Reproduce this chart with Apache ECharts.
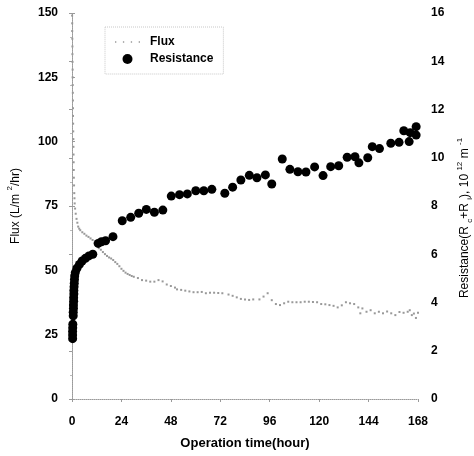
<!DOCTYPE html>
<html>
<head>
<meta charset="utf-8">
<script src="https://cdn.jsdelivr.net/npm/echarts@6/dist/echarts.min.js"></script>
<style>
  html, body { margin: 0; padding: 0; background: #fff; }
  #chart { width: 474px; height: 456px; }
</style>
</head>
<body>
<div id="chart"></div>
<script>
// operation time (h) ticks
var timeTicks = [0, 24, 48, 72, 96, 120, 144, 168];

// flux, L/m2/hr : [time, flux]
var fluxData = [
  [0.05, 149], [0.1, 146], [0.1, 143], [0.15, 140], [0.2, 137], [0.2, 134],
  [0.25, 131], [0.3, 128], [0.3, 125], [0.35, 122], [0.4, 119], [0.45, 116],
  [0.5, 113], [0.5, 110], [0.55, 107], [0.6, 104], [0.65, 101], [0.7, 98],
  [0.75, 95], [0.8, 92], [0.85, 89], [0.9, 86], [1.0, 83], [1.1, 80],
  [1.2, 78], [1.3, 76], [1.5, 74], [1.8, 72], [2.2, 70], [2.6, 68.5],
  [3, 67], [3.5, 66.2], [4, 65.6], [5, 64.8], [6, 64.2], [7, 63.5],
  [8, 63], [9, 62.4], [10, 61.8], [11, 60.8], [12, 59.8], [13, 58.6],
  [14, 58], [15, 57.1], [16, 56.3], [17, 55.6], [18, 55], [19, 54.6],
  [20, 54], [21, 53.2], [22, 52.5], [23, 51.6], [24, 50.6], [25, 49.8],
  [26, 49.1], [27, 48.6], [28, 48.2], [29, 47.8], [30, 47.5], [32, 47],
  [34, 46.2], [36, 46], [38, 45.6], [40, 45.6], [42, 46.2], [44, 45.7],
  [46, 44.5], [48, 43.9], [50, 43.3], [51, 42.6], [53, 42.4], [55, 42.1],
  [57, 41.8], [59, 41.5], [61, 41.5], [63, 41.6], [65, 41.1], [67, 41.3],
  [69, 41.3], [71, 41.2], [73, 41.1], [76, 40.6], [78, 40.1], [80, 39.5],
  [82, 38.9], [84, 38.7], [86, 38.5], [88, 38.7], [91, 38.7], [93, 39.8],
  [95, 41.1], [97, 38.4], [99, 36.9], [101, 36.5], [103, 37.2], [105, 37.8],
  [107, 37.6], [109, 37.6], [111, 37.6], [113, 37.8], [115, 37.8], [117, 37.7],
  [119, 37.6], [121, 36.9], [123, 36.8], [125, 36.5], [127, 36.2], [129, 35.6],
  [131, 36.4], [133, 37.6], [135, 37.2], [137, 36.9], [139, 35.6], [140, 33.3],
  [141, 35.2], [143, 33.9], [145, 34.5], [147, 33.3], [149, 33.9], [151, 33.3],
  [153, 34], [155, 33.3], [157, 32.6], [159, 33.8], [161, 33.5], [163, 33.9],
  [164, 34.5], [165, 32.6], [166, 33.2], [167, 31.5], [168, 33.5]
];

// resistance (Rc+Ri), 10^12 m-1 : [time, resistance]
var resistanceData = [
  [0.3, 2.5], [0.3, 2.65], [0.3, 2.8], [0.35, 2.95], [0.4, 3.1],
  [0.6, 3.45], [0.6, 3.6], [0.7, 3.75], [0.7, 3.9], [0.8, 4.05], [0.8, 4.2],
  [0.9, 4.35], [0.9, 4.5], [1.0, 4.65], [1.1, 4.8], [1.2, 4.95], [1.3, 5.1],
  [1.6, 5.24], [2.4, 5.42], [3.6, 5.58], [4.9, 5.72], [6.5, 5.83], [8.2, 5.93],
  [10.1, 6.0], [12.7, 6.45], [14.3, 6.52], [16.3, 6.56], [19.9, 6.73],
  [24.4, 7.39], [28.5, 7.53], [32.4, 7.7], [36.1, 7.86], [40.0, 7.74], [44.1, 7.83],
  [48.2, 8.41], [52.2, 8.47], [56.0, 8.5], [60.1, 8.63], [64.0, 8.63], [67.9, 8.69],
  [74.2, 8.53], [78.0, 8.78], [82.0, 9.08], [86.1, 9.27], [89.8, 9.17], [93.9, 9.29],
  [97.0, 8.91], [102.1, 9.95], [105.8, 9.52], [109.7, 9.42], [113.6, 9.41], [117.8, 9.62],
  [121.9, 9.26], [125.6, 9.63], [129.5, 9.67], [133.6, 10.02], [137.4, 10.04], [139.3, 9.79],
  [143.6, 10.0], [145.8, 10.46], [149.3, 10.38], [154.8, 10.6], [158.8, 10.64], [161.1, 11.12],
  [163.7, 10.67], [164.2, 11.04], [167.1, 11.29], [167.1, 10.94]
];

var chart = echarts.init(document.getElementById('chart'), null, { renderer: 'canvas' });

var font = 'Liberation Sans, Arial, sans-serif';
var axisGray = '#9a9a9a';

var option = {
  backgroundColor: '#ffffff',
  animation: false,
  textStyle: { fontFamily: font },
  grid: { left: 72, right: 56, top: 13, bottom: 57, containLabel: false, outerBoundsMode: 'none' },
  legend: {
    orient: 'vertical',
    left: 105,
    top: 27,
    padding: [9, 10, 9, 10],
    itemGap: 5,
    itemWidth: 25,
    itemHeight: 10,
    borderColor: '#c8c8c8',
    borderWidth: 1,
    borderType: 'dotted',
    textStyle: { fontFamily: font, fontWeight: 'bold', fontSize: 12, color: '#000', padding: [0, 0, 0, 5] },
    data: [
      { name: 'Flux', icon: 'path://M0,4h1v1h-1z M6,4h1v1h-1z M12,4h1v1h-1z M18,4h1v1h-1z', itemStyle: { color: '#999' } },
      { name: 'Resistance', icon: 'circle', itemStyle: { color: '#000', opacity: 1 } }
    ]
  },
  xAxis: {
    type: 'value',
    min: 0,
    max: 168,
    interval: 24,
    name: 'Operation time(hour)',
    nameLocation: 'middle',
    nameGap: 38,
    nameTextStyle: { fontFamily: font, fontWeight: 'bold', fontSize: 13, color: '#000' },
    axisLine: { show: true, lineStyle: { color: axisGray, type: 'dotted', width: 1 } },
    axisTick: { show: true, length: 3, lineStyle: { color: axisGray } },
    axisLabel: { margin: 17, fontFamily: font, fontWeight: 'bold', fontSize: 12, color: '#000',
      customValues: timeTicks },
    splitLine: { show: false }
  },
  yAxis: [
    {
      type: 'value',
      min: 0,
      max: 150,
      interval: 25,
      position: 'left',
      name: '{n|Flux (L/m }{sup|2}{n|/hr)}',
      nameLocation: 'middle',
      nameRotate: 90,
      nameGap: 50,
      nameTextStyle: {
        rich: {
          n: { fontFamily: font, fontSize: 12, color: '#000', lineHeight: 16, verticalAlign: 'bottom' },
          sup: { fontFamily: font, fontSize: 8, color: '#000', lineHeight: 16, verticalAlign: 'top' }
        }
      },
      axisLine: { show: true, onZero: false, lineStyle: { color: axisGray, type: 'dotted', width: 1 } },
      axisTick: { show: true, inside: true, length: 3, lineStyle: { color: axisGray } },
      axisLabel: { margin: 14, fontFamily: font, fontWeight: 'bold', fontSize: 12, color: '#000' },
      splitLine: { show: false }
    },
    {
      type: 'value',
      min: 0,
      max: 16,
      interval: 2,
      position: 'right',
      name: '{n|Resistance(R }{sub|c}{n|+R }{sub|i}{n|), 10 }{sup|12}{n| m }{sup|-1}',
      nameLocation: 'middle',
      nameRotate: 90,
      nameGap: 38,
      nameTextStyle: {
        padding: [0, 24, 0, 0],
        rich: {
          n: { fontFamily: font, fontSize: 12, color: '#000', lineHeight: 18, verticalAlign: 'middle' },
          sup: { fontFamily: font, fontSize: 8, color: '#000', lineHeight: 18, verticalAlign: 'top' },
          sub: { fontFamily: font, fontSize: 8, color: '#000', lineHeight: 18, verticalAlign: 'bottom' }
        }
      },
      axisLine: { show: true, lineStyle: { color: axisGray, type: 'dotted', width: 1 } },
      axisTick: { show: true, inside: true, length: 3, lineStyle: { color: axisGray } },
      minorTick: { show: true, splitNumber: 2, length: 2, lineStyle: { color: '#bbb' } },
      axisLabel: { margin: 13, fontFamily: font, fontWeight: 'bold', fontSize: 12, color: '#000' },
      splitLine: { show: false }
    }
  ],
  series: [
    {
      name: 'Flux',
      type: 'scatter',
      yAxisIndex: 0,
      symbol: 'rect',
      symbolSize: 2,
      itemStyle: { color: '#999', opacity: 1 },
      data: fluxData,
      z: 2
    },
    {
      name: 'Resistance',
      type: 'scatter',
      yAxisIndex: 1,
      symbol: 'circle',
      symbolSize: 9,
      itemStyle: { color: '#000', opacity: 1 },
      data: resistanceData,
      z: 3
    }
  ]
};

chart.setOption(option);
</script>
</body>
</html>
